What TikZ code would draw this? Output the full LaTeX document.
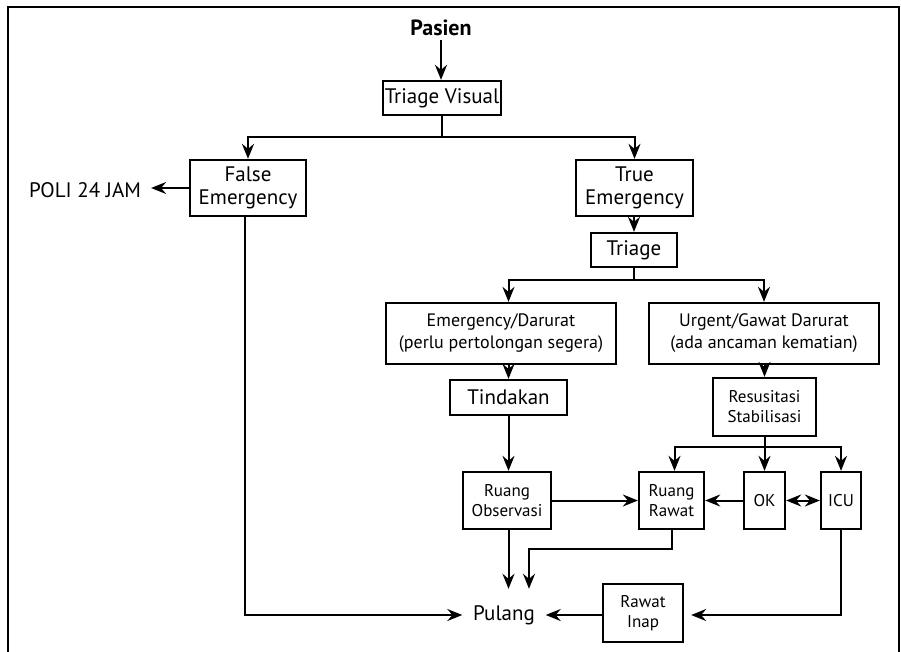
\documentclass[tikz,border=0pt]{standalone}
\usepackage{fontspec}
\setmainfont{PT Sans}
\usetikzlibrary{arrows.meta}
\begin{document}
\begin{tikzpicture}[x=1pt,y=-1pt,
  box/.style={draw, line width=2.3pt, inner sep=0pt, align=center},
  big/.style={font=\fontsize{21}{23}\selectfont},
  small/.style={font=\fontsize{18}{22}\selectfont},
  cond/.style={font=\fontsize{17}{20}\selectfont},
  conn/.style={line width=2pt},
  tip/.tip={Stealth[length=15pt,width=12pt,inset=5pt]},
  arr/.style={conn, -tip},
  darr/.style={conn, tip-tip},
]
\useasboundingbox (0,0) rectangle (901,651);
\clip (0,0) rectangle (901,651);
% open frame around the chart
\draw[line width=2.6pt] (8,660) -- (8,7) -- (899,7) -- (899,660);

% nodes
\node[font=\fontsize{22}{24}\selectfont\bfseries] (pasien) at (441,28) {Pasien};
\node[box,big,minimum width=118pt,minimum height=34pt] (tv) at (442,98) {Triage Visual};
\node[box,big,minimum width=116pt,minimum height=56pt] (fe) at (248,188) {False\\Emergency};
\node[box,big,minimum width=117pt,minimum height=56pt] (te) at (634.5,188) {True\\Emergency};
\node[big,inner xsep=10pt] (poli) at (85,190) {POLI 24 JAM};
\node[box,big,minimum width=86pt,minimum height=34pt] (tr) at (634,250) {Triage};
\node[box,small,minimum width=230pt,minimum height=61pt] (ed) at (501,333.5) {Emergency/Darurat\\(perlu pertolongan segera)};
\node[box,small,minimum width=230pt,minimum height=61pt] (ug) at (764,333.5) {Urgent/Gawat Darurat\\(ada ancaman kematian)};
\node[box,big,minimum width=117pt,minimum height=35pt] (td) at (508.5,397.5) {Tindakan};
\node[box,cond,minimum width=103pt,minimum height=58pt] (rs) at (764.5,407) {Resusitasi\\Stabilisasi};
\node[box,cond,minimum width=88pt,minimum height=57pt] (ro) at (507,500.5) {Ruang\\Observasi};
\node[box,cond,minimum width=65pt,minimum height=57pt] (rr) at (671.5,500.5) {Ruang\\Rawat};
\node[box,cond,minimum width=41pt,minimum height=57pt] (ok) at (764.5,500.5) {OK};
\node[box,cond,minimum width=40pt,minimum height=57pt] (icu) at (841,500.5) {ICU};
\node[big,minimum width=83pt,minimum height=52pt,inner sep=0pt] (pl) at (504,615) {Pulang};
\node[box,cond,minimum width=80pt,minimum height=58pt] (ri) at (643,613) {Rawat\\Inap};

% junction levels
\coordinate (y1) at (0,137);
\coordinate (y2) at (0,280);
\coordinate (y3) at (0,447);
\coordinate (bend) at (529,549);

% connectors
\draw[arr] (pasien) -- (pasien |- tv.north);
\draw[conn] (tv.south) -- (tv.south |- y1);
\draw[arr] (tv.south |- y1) -| (fe.north);
\draw[arr] (tv.south |- y1) -| (te.north);
\draw[arr] (fe.west) -- (fe.west -| poli.east);
\draw[arr] (tr.north |- te.south) -- (tr.north);
\draw[conn] (tr.south) -- (tr.south |- y2);
\draw[arr] (tr.south |- y2) -| (td.north |- ed.north);
\draw[arr] (tr.south |- y2) -| (ug.north);
\draw[arr] (td.north |- ed.south) -- (td.north);
\draw[arr] (rs.north |- ug.south) -- (rs.north);
\draw[arr] (td.south) -- (td.south |- ro.north);
\draw[conn] (rs.south) -- (rs.south |- y3);
\draw[arr] (rs.south |- y3) -| ([xshift=3pt]rr.north);
\draw[arr] (rs.south |- y3) -- (ok.north);
\draw[arr] (rs.south |- y3) -| (icu.north);
\draw[arr] (ro.east) -- (rr.west);
\draw[arr] (ok.west) -- (rr.east);
\draw[darr] (ok.east) -- (icu.west);
\draw[arr] (td.south |- ro.south) -- (td.south |- pl.north);
\draw[arr] (rr.south) |- (bend) -- (bend |- pl.north);
\draw[arr] ([xshift=-3pt]fe.south) |- (pl.west);
\draw[arr] (ri.west |- pl.east) -- (pl.east);
\draw[arr, shorten >=7pt] (icu.south) |- (ri.east |- pl.east);
\end{tikzpicture}
\end{document}
